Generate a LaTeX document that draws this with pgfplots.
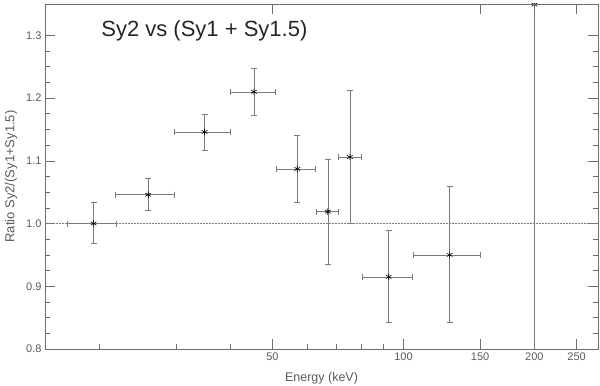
\documentclass[border=0pt]{standalone}
\usepackage{fontspec}
\setmainfont{Liberation Sans}
\usepackage{pgfplots}
\pgfplotsset{compat=1.18}
\usetikzlibrary{calc}
\definecolor{cTxt}{HTML}{5A5A5A}
\definecolor{cAx}{HTML}{6E6E6E}
\definecolor{cErr}{HTML}{7C7C7C}

% x y x- x+ y- y+
\pgfplotstableread{
x y exm exp eym eyp
19.4 1.000 2.5 2.5 0.032 0.034
25.9 1.046 4.1 3.9 0.025 0.026
34.9 1.146 5.1 5.0 0.029 0.028
45.3 1.210 5.4 5.5 0.037 0.038
57.0 1.087 6.1 5.7 0.053 0.053
67.0 1.019 4.0 4.0 0.084 0.083
75.3 1.106 4.3 4.7 0.106 0.106
92.5 0.915 12.1 12.4 0.073 0.074
127.7 0.950 22.2 22.6 0.108 0.109
}\ratio

\begin{document}
\begin{tikzpicture}
\begin{axis}[name=ax,
  scale only axis, width=553pt, height=345pt,
  xmode=log, xmin=15, xmax=280, ymin=0.8, ymax=1.35,
  xtick={50,100,150,200,250}, xticklabels={50,100,150,200,250},
  minor xtick={20,30,40,60,70,80,90},
  xtick pos=bottom,
  ytick={0.8,0.9,1.0,1.1,1.2,1.3}, minor y tick num=3,
  yticklabel style={/pgf/number format/.cd,fixed,fixed zerofill,precision=1},
  /pgf/number format/assume math mode=true,
  tick align=inside, major tick length=10pt, minor tick length=5pt,
  axis line style={cAx, line width=0.6pt},
  every tick/.style={cAx, line width=0.6pt},
  tick label style={cTxt, font=\fontsize{11}{12}\selectfont},
  xlabel={Energy (keV)}, ylabel={Ratio Sy2/(Sy1+Sy1.5)},
  xlabel style={cTxt, font=\fontsize{12.5}{13}\selectfont, at={(axis description cs:0.5,0)}, anchor=base, yshift=-33pt},
  ylabel style={cTxt, font=\fontsize{13}{14}\selectfont, at={(axis description cs:-0.0615,0.5)}, anchor=center},
  clip marker paths=true,
]
\addplot[cErr, densely dotted, line width=0.5pt, forget plot] coordinates {(15,1.0)(280,1.0)};
\addplot[only marks, mark=asterisk, mark size=3.3pt, mark options={black, line width=0.6pt},
  error bars/.cd, x dir=both, y dir=both, x explicit, y explicit,
  error mark=|,
  error mark options={cErr, mark size=3pt, line width=0.5pt},
  error bar style={cErr, line width=0.5pt}]
  table[x=x, y=y, x error minus=exm, x error plus=exp, y error minus=eym, y error plus=eyp] {\ratio};
\addplot[only marks, mark=asterisk, mark size=3.3pt, mark options={black, line width=0.6pt},
  error bars/.cd, y dir=both, y explicit,
  error mark=|,
  error mark options={cErr, mark size=3pt, line width=0.5pt},
  error bar style={cErr, line width=0.5pt}]
  coordinates {(200,1.349) -= (0,1.0) += (0,0.5)};
\node[anchor=west, text=black!85, font=\fontsize{22}{25}\selectfont] at (rel axis cs:0.0955,0.922) {Sy2 vs (Sy1 + Sy1.5)};
\end{axis}
\begin{axis}[
  scale only axis, width=553pt, height=345pt,
  xmode=log, xmin=15, xmax=280, ymin=0.8, ymax=1.35,
  axis x line*=top, axis y line=none,
  xtick={50,150,200,250}, xticklabels={}, minor xtick={},
  tick align=inside, major tick length=10pt,
  axis line style={cAx, line width=0.6pt},
  every tick/.style={cAx, line width=0.6pt},
]
\end{axis}
\pgfresetboundingbox
\path[use as bounding box] ($(ax.south west)+(-45pt,-37pt)$) rectangle ($(ax.north east)+(2pt,4pt)$);
\end{tikzpicture}
\end{document}
